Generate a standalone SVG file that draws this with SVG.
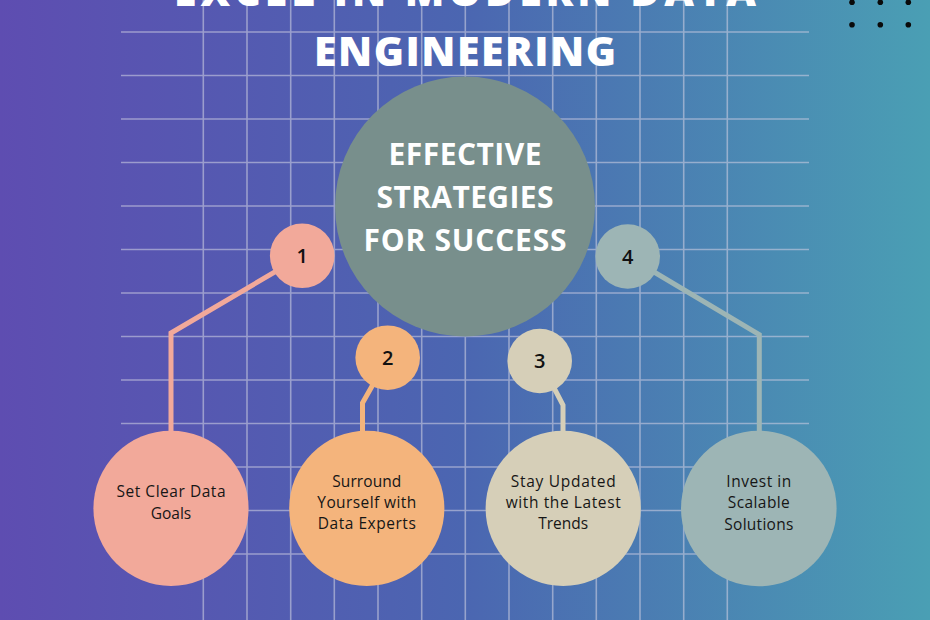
<svg xmlns="http://www.w3.org/2000/svg" width="930" height="620" viewBox="0 0 930 620">
  <defs>
    <linearGradient id="bg" x1="0" y1="0" x2="1" y2="0">
      <stop offset="0" stop-color="#5e4db1"/>
      <stop offset="0.5" stop-color="#4b66b1"/>
      <stop offset="1" stop-color="#4a9fb4"/>
    </linearGradient>
  </defs>
  <style>
    .grid { stroke: #c9cbe0; stroke-opacity: 0.6; stroke-width: 1.6; fill: none; }
    .title { font-family: "Open Sans", "Liberation Sans", sans-serif; font-weight: 800; font-size: 41px; fill: #ffffff; text-anchor: middle; }
    .center { font-family: "Open Sans", "Liberation Sans", sans-serif; font-weight: 700; font-size: 30px; fill: #ffffff; text-anchor: middle; }
    .num { font-family: "Open Sans", "Liberation Sans", sans-serif; font-weight: 600; font-size: 20px; fill: #111111; text-anchor: middle; }
    .lbl { font-family: "Open Sans", "Liberation Sans", sans-serif; font-weight: 500; font-size: 15.5px; fill: #161616; text-anchor: middle; }
    .conn { fill: none; stroke-width: 5; stroke-linejoin: miter; }
    .dot { fill: #0a0a0a; }
  </style>
  <rect x="0" y="0" width="930" height="620" fill="url(#bg)"/>
  <g id="grid">
    <path class="grid" d="M121 32H809 M121 75.5H809 M121 119H809 M121 162.5H809 M121 206H809 M121 249.5H809 M121 293H809 M121 336.5H809 M121 380H809 M121 423.5H809 M121 467H809 M121 510.5H809 M121 554H809
      M203.3 0V620 M247 0V620 M290.7 0V620 M334.3 0V620 M378 0V620 M421.7 0V620 M465.3 0V620 M509 0V620 M552.7 0V620 M596.3 0V620 M640 0V620 M683.7 0V620 M727.3 0V620"/>
  </g>
  <g id="dots">
    <circle class="dot" cx="852" cy="2.3" r="2.8"/>
    <circle class="dot" cx="880.3" cy="2.3" r="2.8"/>
    <circle class="dot" cx="908.3" cy="2.3" r="2.8"/>
    <circle class="dot" cx="852" cy="24.7" r="2.8"/>
    <circle class="dot" cx="880.3" cy="24.7" r="2.8"/>
    <circle class="dot" cx="908.3" cy="24.7" r="2.8"/>
  </g>
  <g id="title">
    <text class="title" x="465" y="6" textLength="582">EXCEL IN MODERN DATA</text>
    <text class="title" x="465" y="65.5" textLength="302">ENGINEERING</text>
  </g>
  <g id="connectors">
    <polyline class="conn" stroke="#f2a99a" points="302,256 171,333 171,435"/>
    <polyline class="conn" stroke="#f4b47c" points="388,358 362.5,403 362.5,435"/>
    <polyline class="conn" stroke="#d6cfb8" points="540,361 563,405 563,435"/>
    <polyline class="conn" stroke="#9db5b5" points="628,256.5 759.3,334.6 759.3,435"/>
  </g>
  <g id="center-node">
    <circle cx="465" cy="206.5" r="130" fill="#788f8c"/>
    <text class="center" x="465" y="165" textLength="153">EFFECTIVE</text>
    <text class="center" x="465" y="208" textLength="177">STRATEGIES</text>
    <text class="center" x="465" y="250.5" textLength="203">FOR SUCCESS</text>
  </g>
  <g id="step-1">
    <circle cx="302.2" cy="255.8" r="32.3" fill="#f2a99a"/>
    <text class="num" x="302.2" y="263">1</text>
  </g>
  <g id="step-2">
    <circle cx="387.7" cy="357.7" r="32.3" fill="#f4b47c"/>
    <text class="num" x="387.7" y="365">2</text>
  </g>
  <g id="step-3">
    <circle cx="539.7" cy="361" r="32.3" fill="#d6cfb8"/>
    <text class="num" x="539.7" y="368.3">3</text>
  </g>
  <g id="step-4">
    <circle cx="627.7" cy="256.5" r="32.3" fill="#9db5b5"/>
    <text class="num" x="627.7" y="263.8">4</text>
  </g>
  <g id="goal-1">
    <circle cx="171" cy="508.3" r="77.6" fill="#f2a99a"/>
    <text class="lbl" x="171" y="497.3" textLength="109">Set Clear Data</text>
    <text class="lbl" x="171" y="519">Goals</text>
  </g>
  <g id="goal-2">
    <circle cx="366.8" cy="508.3" r="77.6" fill="#f4b47c"/>
    <text class="lbl" x="366.8" y="486.7" textLength="69">Surround</text>
    <text class="lbl" x="366.8" y="507.7" textLength="99">Yourself with</text>
    <text class="lbl" x="366.8" y="529.3" textLength="98">Data Experts</text>
  </g>
  <g id="goal-3">
    <circle cx="563.2" cy="508.3" r="77.6" fill="#d6cfb8"/>
    <text class="lbl" x="563.2" y="486.7" textLength="105">Stay Updated</text>
    <text class="lbl" x="563.2" y="507.5" textLength="115">with the Latest</text>
    <text class="lbl" x="563.2" y="529.3">Trends</text>
  </g>
  <g id="goal-4">
    <circle cx="758.8" cy="508.5" r="77.8" fill="#9db5b5"/>
    <text class="lbl" x="758.8" y="486.9" textLength="65">Invest in</text>
    <text class="lbl" x="758.8" y="508.3" textLength="62">Scalable</text>
    <text class="lbl" x="758.8" y="529.8" textLength="69">Solutions</text>
  </g>
</svg>
